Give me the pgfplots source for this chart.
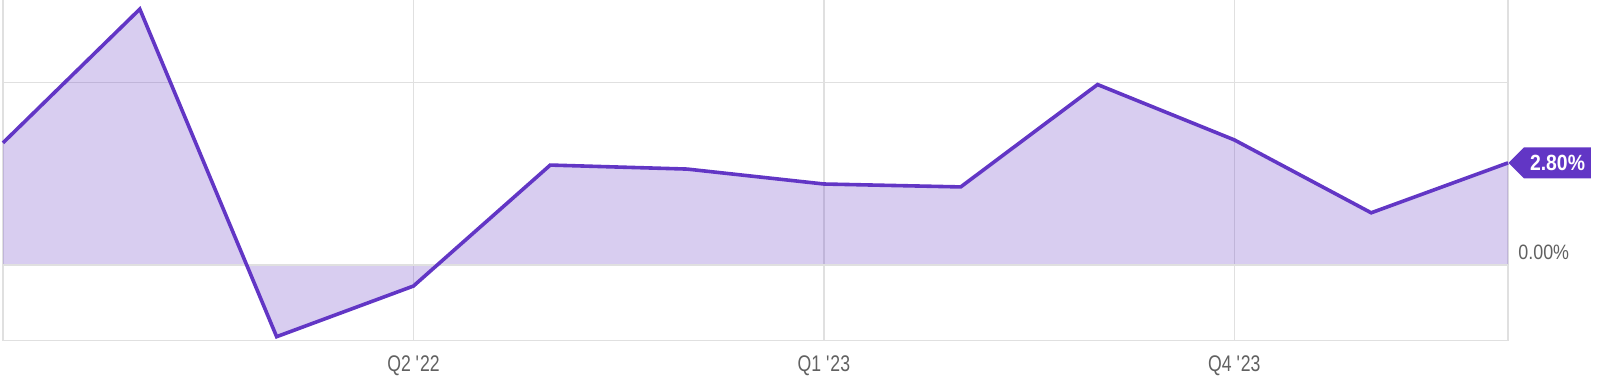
\documentclass[border=0pt]{standalone}
\usepackage{fontspec}
\setmainfont{Liberation Sans}
\newfontfamily\condfont[FakeStretch=0.78]{Liberation Sans}
\newfontfamily\semifont[FakeStretch=0.86]{Liberation Sans}
\newfontfamily\boldcond[FakeStretch=0.88]{Liberation Sans Bold}
\usepackage{pgfplots}
\pgfplotsset{compat=1.18}
\usepgfplotslibrary{fillbetween}
\usetikzlibrary{shapes.symbols}
\definecolor{lineC}{RGB}{98,54,197}
\definecolor{gridC}{RGB}{224,224,224}
\definecolor{txtC}{RGB}{97,97,97}
\pgfplotstableread{
x y
0 3.35
1 7.02
2 -1.97
3 -0.58
4 2.74
5 2.63
6 2.22
7 2.14
8 4.95
9 3.43
10 1.43
11 2.80
}\datatable
\begin{document}
\begin{tikzpicture}
\begin{axis}[
  at={(1.5pt,24.65pt)}, anchor=south west,
  scale only axis, width=752.5pt, height=170.35pt,
  xmin=0, xmax=11, ymin=-2.08, ymax=7.27,
  axis line style={draw=none},
  xtick={3,6,9},
  xticklabels={Q2 \textquotesingle22, Q1 \textquotesingle23, Q4 \textquotesingle23},
  ytick={5}, yticklabels={},
  extra x ticks={0,11}, extra x tick labels={},
  extra y ticks={-2.08}, extra y tick labels={},
  extra tick style={grid=major, major tick length=0pt},
  grid=major, major grid style={gridC, line width=0.75pt},
  major tick length=0pt,
  xticklabel style={font=\condfont\fontsize{11.3}{13}\selectfont, text=txtC, anchor=north, yshift=-4pt},
  clip=false,
]
\addplot[draw=none, name path=A] table[x=x, y=y] {\datatable};
\addplot[draw=none, name path=Z] coordinates {(0,0) (11,0)};
\addplot[fill=lineC, fill opacity=0.25, draw=none] fill between[of=A and Z];
\addplot[gridC, line width=0.75pt] coordinates {(0,0) (11,0)};
\addplot[lineC, line width=1.8pt, line join=miter] table[x=x, y=y] {\datatable};
\node[anchor=base west, text=txtC, font=\semifont\fontsize{10.4}{12}\selectfont, inner sep=0pt, xshift=5pt, yshift=2.7pt] at (axis cs:11,0) {0.00\%};
\node[signal, signal to=west, fill=lineC, text=white, font=\boldcond\fontsize{11}{12}\selectfont, inner xsep=3pt, inner ysep=0pt, minimum height=15.5pt, anchor=west] at (axis cs:11,2.80) {2.80\%};
\end{axis}
\pgfresetboundingbox
\path[use as bounding box] (0,0) rectangle (806.5pt,195pt);
\end{tikzpicture}
\end{document}
